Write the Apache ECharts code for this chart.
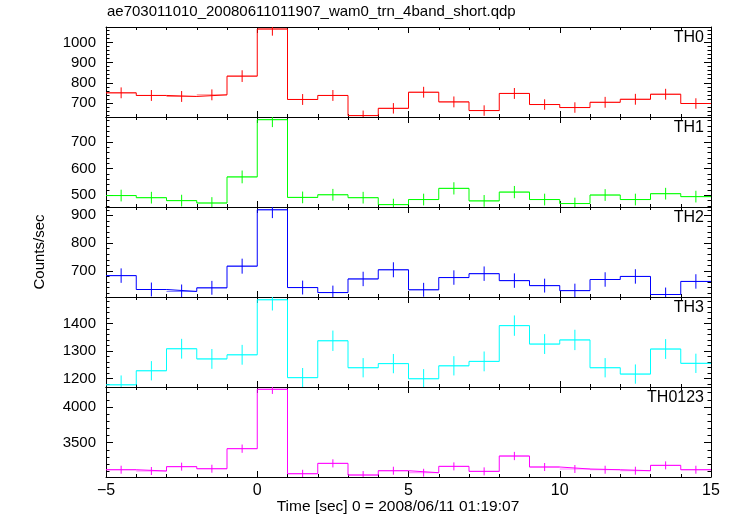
<!DOCTYPE html>
<html><head><meta charset="utf-8">
<script src="https://cdn.jsdelivr.net/npm/echarts@6/dist/echarts.min.js"></script>
<style>html,body{margin:0;padding:0;background:#fff}#c{width:733px;height:516px}</style>
</head><body><div id="c"></div>
<script>
// ---- data ----
const titleText = 'ae703011010_20080611011907_wam0_trn_4band_short.qdp';
const xTitle = 'Time [sec] 0 = 2008/06/11 01:19:07';
const yTitle = 'Counts/sec';
const panelNames = ['TH0', 'TH1', 'TH2', 'TH3', 'TH0123'];
const binCenters = [-4.5,-3.5,-2.5,-1.5,-0.5,0.5,1.5,2.5,3.5,4.5,5.5,6.5,7.5,8.5,9.5,10.5,11.5,12.5,13.5,14.5];
const binHalfWidth = 0.5;
const th0 = [750,737,732,740,833,1067,717,737,637,673,753,705,662,747,692,677,703,718,743,697];
const th0Err = [27,27,27,27,29,33,27,27,25,26,27,27,26,27,26,26,27,27,27,26];
const th1 = [499,491,480,471,569,784,492,502,491,465,484,526,479,512,484,469,501,484,506,495];
const th1Err = [22,22,22,22,24,28,22,22,22,22,22,23,22,23,22,22,22,22,22,22];
const th2 = [683,633,626,639,717,920,640,622,671,704,632,676,690,665,647,629,669,680,615,662];
const th2Err = [26,25,25,25,27,30,25,25,26,27,25,26,26,26,25,25,26,26,25,26];
const th3 = [1178,1229,1309,1272,1287,1487,1204,1338,1240,1255,1200,1247,1263,1393,1326,1341,1240,1217,1308,1256];
const th3Err = [34,35,36,36,36,39,35,37,35,35,35,35,36,37,36,37,35,35,36,35];
const th0123 = [3121,3103,3164,3135,3416,4248,3065,3210,3047,3107,3079,3168,3098,3313,3159,3131,3121,3107,3182,3121];
const th0123Err = [56,56,56,56,58,65,55,57,55,56,55,56,56,58,56,56,56,56,56,56];
const xTickLabels = [-5, 0, 5, 10, 15];
const yMajor0 = [700, 800, 900, 1000];
const yMajor1 = [500, 600, 700];
const yMajor2 = [700, 800, 900];
const yMajor3 = [1200, 1300, 1400];
const yMajor4 = [3500, 4000];
const yRanges = [[630, 1077], [456, 794], [606, 930], [1170, 1497], [3019, 4280]];
const yMinorSteps = [20, 20, 20, 20, 100];

const values = [th0, th1, th2, th3, th0123];
const errors = [th0Err, th1Err, th2Err, th3Err, th0123Err];
const majors = [yMajor0, yMajor1, yMajor2, yMajor3, yMajor4];
const colors = ['#ff0000', '#00ff00', '#0000ff', '#00ffff', '#ff00ff'];

const FONT = 'Liberation Sans';
const LEFT = 106, RIGHT = 22, TOP = 27, H = 90;

const grids = [], xAxes = [], yAxes = [], series = [];
for (let p = 0; p < 5; p++) {
  grids.push({ left: LEFT, right: RIGHT, top: TOP + p * H, height: H, show: false });
  const isLast = p === 4;
  [ 'bottom', 'top' ].forEach(pos => {
    xAxes.push({
      type: 'value', gridIndex: p, position: pos,
      min: xTickLabels[0], max: xTickLabels[xTickLabels.length - 1], interval: 5,
      axisLine: { show: true, onZero: false, lineStyle: { color: '#000', width: 1 } },
      axisTick: { show: true, inside: true, length: 6, lineStyle: { color: '#000' } },
      minorTick: { show: true, splitNumber: 5, length: 3, lineStyle: { color: '#000' } },
      splitLine: { show: false },
      axisLabel: { show: isLast && pos === 'bottom', margin: 6, color: '#000', fontSize: 16, fontFamily: FONT,
                   formatter: v => (v < 0 ? '\u2212' + (-v) : '' + v) }
    });
  });
  const [mn, mx] = yRanges[p];
  const step = yMinorSteps[p];
  const minors = [];
  for (let v = Math.ceil(mn / step) * step; v <= mx; v += step) {
    if (majors[p].indexOf(v) < 0) minors.push(v);
  }
  ['left', 'right'].forEach(pos => {
    yAxes.push({
      type: 'value', gridIndex: p, position: pos, min: mn, max: mx,
      axisLine: { show: true, onZero: false, lineStyle: { color: '#000', width: 1 } },
      axisTick: { show: true, inside: true, length: 7, customValues: majors[p], lineStyle: { color: '#000' } },
      splitLine: { show: false },
      axisLabel: { show: pos === 'left', customValues: majors[p], margin: 10, color: '#000', fontSize: 15, fontFamily: FONT,
                   formatter: v => '' + v }
    });
    yAxes.push({
      type: 'value', gridIndex: p, position: pos, min: mn, max: mx,
      axisLine: { show: false, onZero: false },
      axisTick: { show: true, inside: true, length: 3.5, customValues: minors, lineStyle: { color: '#000' } },
      splitLine: { show: false },
      axisLabel: { show: false }
    });
  });
  const xi = p * 2, yi = p * 4;
  const stepData = binCenters.map((t, i) => [t - binHalfWidth, values[p][i]]);
  stepData.push([binCenters[binCenters.length - 1] + binHalfWidth, values[p][values[p].length - 1]]);
  series.push({
    type: 'line', xAxisIndex: xi, yAxisIndex: yi, data: stepData, step: 'end',
    symbol: 'none', silent: true, animation: false,
    lineStyle: { color: colors[p], width: 1 }
  });
  series.push({
    type: 'custom', xAxisIndex: xi, yAxisIndex: yi, animation: false, silent: true,
    data: binCenters.map((t, i) => [t, values[p][i], errors[p][i]]),
    renderItem: function (params, api) {
      const cs = params.coordSys;
      const t = api.value(0), v = api.value(1), e = api.value(2);
      const clampY = y => Math.max(cs.y, Math.min(cs.y + cs.height, y));
      const top = api.coord([t, v + e]), bot = api.coord([t, v - e]);
      const l = api.coord([t - binHalfWidth, v]), r = api.coord([t + binHalfWidth, v]);
      const col = colors[p];
      return { type: 'group', children: [
        { type: 'line', shape: { x1: top[0], y1: clampY(top[1]), x2: bot[0], y2: clampY(bot[1]) }, style: { stroke: col, lineWidth: 1 } },
        { type: 'line', shape: { x1: l[0], y1: l[1], x2: r[0], y2: r[1] }, style: { stroke: col, lineWidth: 1, opacity: 0.5 } }
      ]};
    }
  });
}

const graphic = [
  { type: 'text', left: 107, top: 4, style: { text: titleText, fontSize: 15, fontFamily: FONT, fill: '#000' } },
  { type: 'text', x: 398, y: 507, style: { text: xTitle, fontSize: 15.5, fontFamily: FONT, fill: '#000', align: 'center', verticalAlign: 'middle' } },
  { type: 'text', x: 40, y: 252, rotation: Math.PI / 2,
    style: { text: yTitle, fontSize: 15, fontFamily: FONT, fill: '#000', align: 'center', verticalAlign: 'middle' } }
];
panelNames.forEach((n, p) => {
  graphic.push({ type: 'text', right: 29, top: TOP + p * H + 3,
    style: { text: n, fontSize: 16, fontFamily: FONT, fill: '#000' } });
});

const chart = echarts.init(document.getElementById('c'), null, { renderer: 'canvas' });
chart.setOption({
  animation: false,
  backgroundColor: '#fff',
  grid: grids, xAxis: xAxes, yAxis: yAxes, series: series, graphic: graphic
});
</script></body></html>
